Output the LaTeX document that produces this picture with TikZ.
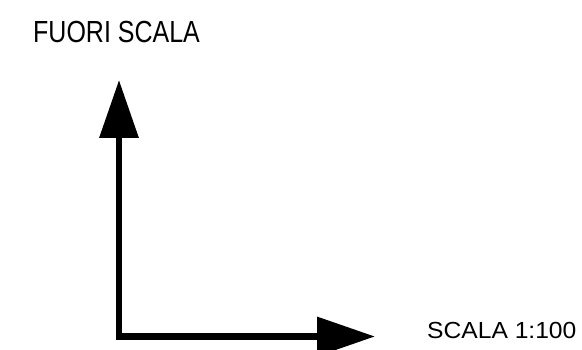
\documentclass[tikz,border=0pt]{standalone}
\usepackage{fontspec}
\setmainfont{Liberation Sans}
\usetikzlibrary{arrows.meta}
\begin{document}
\begin{tikzpicture}[x=1pt,y=1pt,
  lbl/.style={inner sep=0pt, anchor=base west, font=\fontsize{25}{25}\selectfont},
  bigarrow/.style={line width=6.5pt, line join=miter,
    {Triangle[length=58pt,width=38pt]}-{Triangle[length=58pt,width=38pt]}}]
\useasboundingbox (0,0) rectangle (582,350);
\coordinate (top) at (119,270);
\coordinate (corner) at (119,13.5);
\coordinate (right) at (375,13.5);
\draw[bigarrow] (top) -- (corner) -- (right);
\node[lbl] (fuori) at (33,307) {\scalebox{1}[1.22]{FUORI SCALA}};
\node[lbl] (scala) at (427,11) {\scalebox{0.985}[0.93]{SCALA 1:100}};
\end{tikzpicture}
\end{document}
